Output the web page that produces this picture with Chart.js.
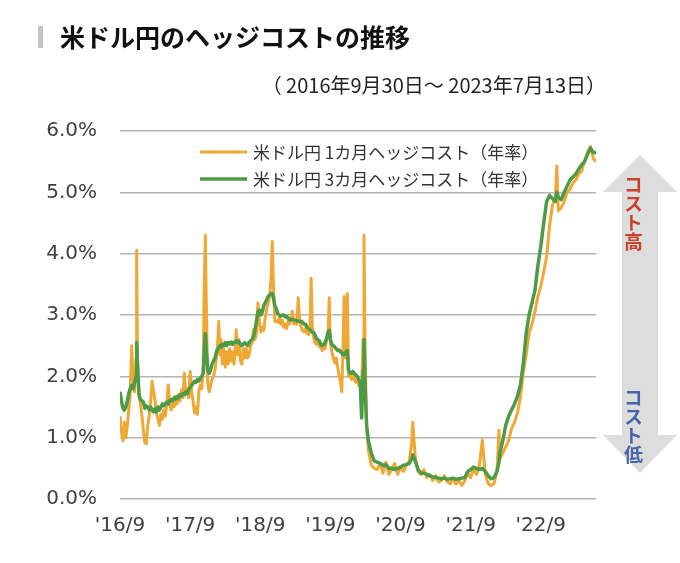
<!DOCTYPE html>
<html><head><meta charset="utf-8">
<script src="https://cdn.jsdelivr.net/npm/chart.js@4.4.0/dist/chart.umd.min.js"></script>
<style>
html,body{margin:0;padding:0;background:#fff;}
#wrap{position:relative;width:680px;height:563px;overflow:hidden;font-family:"Noto Sans CJK JP","Noto Sans",sans-serif;}
#c{position:absolute;left:0;top:0;}
.bar{position:absolute;left:38px;top:26px;width:5px;height:22px;background:#c4c4c4;}
.title{position:absolute;left:60px;top:24px;font-size:25px;font-weight:bold;color:#111;line-height:25px;white-space:nowrap;}
.sub{position:absolute;right:74px;top:75px;font-size:20px;color:#222;line-height:20px;white-space:nowrap;}
svg.arrow{position:absolute;left:0;top:0;pointer-events:none;}
.vt{position:absolute;writing-mode:vertical-rl;font-size:19px;font-weight:bold;line-height:19px;white-space:nowrap;}
.hi{left:624px;top:175px;color:#c8432b;}
.lo{left:624px;top:388px;color:#4565a8;}
</style></head>
<body>
<div id="wrap">
  <canvas id="c" width="680" height="563"></canvas>
  <div class="bar"></div>
  <div class="title">米ドル円のヘッジコストの推移</div>
  <div class="sub">（ 2016年9月30日～ 2023年7月13日）</div>
  <svg class="arrow" width="680" height="563"><polygon points="640,155 677,192 658,192 658,435 677,435 640,473 603,435 622,435 622,192 603,192" fill="#dddddd"/></svg>
  <div class="vt hi">コスト高</div>
  <div class="vt lo">コスト低</div>
</div>
<script>
// months since 2016-09-30
const months = [
0, 0.25, 0.5, 0.75, 1, 1.25, 1.5, 1.75, 2, 2.25,
2.5, 2.75, 2.85, 3, 3.25, 3.5, 3.75, 4, 4.25, 4.5,
4.75, 5, 5.25, 5.5, 5.75, 6, 6.25, 6.5, 6.75, 7,
7.25, 7.5, 7.75, 8, 8.25, 8.5, 8.75, 9, 9.25, 9.5,
9.75, 10, 10.25, 10.5, 10.75, 11, 11.25, 11.5, 11.75, 12,
12.25, 12.5, 12.75, 13, 13.25, 13.5, 13.75, 14, 14.25, 14.4,
14.6, 14.8, 15, 15.25, 15.5, 15.75, 16, 16.25, 16.5, 16.75,
16.9, 17.1, 17.3, 17.5, 17.75, 18, 18.25, 18.5, 18.75, 19,
19.25, 19.5, 19.75, 19.9, 20.1, 20.35, 20.6, 20.85, 21.1, 21.35,
21.6, 21.85, 22.1, 22.35, 22.6, 22.85, 23.1, 23.35, 23.6, 23.85,
24.1, 24.35, 24.6, 24.85, 25.1, 25.35, 25.6, 25.85, 26.05, 26.25,
26.5, 26.75, 27, 27.25, 27.5, 27.75, 28, 28.25, 28.5, 28.75,
29, 29.25, 29.5, 29.75, 30, 30.25, 30.5, 30.75, 31, 31.25,
31.5, 31.75, 32, 32.25, 32.5, 32.7, 32.9, 33.1, 33.35, 33.6,
33.85, 34.1, 34.35, 34.6, 34.85, 35.1, 35.35, 35.6, 35.8, 36,
36.25, 36.5, 36.75, 37, 37.25, 37.5, 37.75, 37.95, 38.15, 38.35,
38.55, 38.75, 38.9, 39.1, 39.35, 39.6, 39.85, 40.1, 40.35, 40.6,
40.85, 41.1, 41.35, 41.6, 41.75, 41.95, 42.2, 42.5, 43, 43.5,
44, 44.5, 45, 45.5, 46, 46.5, 47, 47.5, 48, 48.5,
49, 49.5, 49.9, 50.1, 50.5, 51, 51.5, 52, 52.5, 53,
53.5, 54, 54.5, 55, 55.5, 56, 56.5, 57, 57.5, 58,
58.5, 59, 59.5, 60, 60.5, 61, 61.5, 62, 62.5, 63,
63.5, 64, 64.5, 64.85, 65, 65.5, 66, 66.5, 67, 67.5,
68, 68.5, 69, 69.5, 70, 70.5, 71, 71.5, 72, 72.5,
73, 73.5, 74, 74.5, 74.75, 75, 75.5, 76, 76.5, 77,
77.5, 78, 78.5, 79, 79.5, 80, 80.5, 81, 81.45
];
// 米ドル円 1カ月ヘッジコスト（年率, %）
const hedge1M = [
1.35, 1.1, 0.95, 1.25, 1.0, 1.2, 1.45, 1.7, 2.5, 1.85,
1.75, 2.3, 4.05, 2.2, 1.7, 1.55, 1.35, 1.13, 0.92, 0.9,
1.2, 1.35, 1.6, 1.92, 1.75, 1.6, 1.4, 1.3, 1.2, 1.38,
1.3, 1.45, 1.35, 1.55, 1.86, 1.55, 1.45, 1.6, 1.5, 1.67,
1.55, 1.7, 1.6, 1.78, 1.65, 2.05, 1.7, 1.8, 1.65, 2.08,
1.75, 1.6, 1.4, 1.5, 1.38, 1.75, 1.86, 1.8, 2.2, 3.4,
4.3, 3.0, 1.9, 1.75, 1.85, 1.95, 2.0, 2.1, 2.3, 2.6,
2.9, 2.35, 2.6, 2.2, 2.45, 2.15, 2.4, 2.2, 2.45, 2.25,
2.4, 2.2, 2.5, 2.76, 2.35, 2.6, 2.25, 2.2, 2.45, 2.3,
2.45, 2.3, 2.35, 2.5, 2.55, 2.76, 2.6, 2.7, 3.2, 2.9,
2.72, 2.8, 2.75, 2.95, 3.1, 3.2, 3.3, 3.6, 4.2, 3.5,
2.9, 2.9, 2.88, 2.95, 2.85, 2.92, 2.8, 2.85, 2.78, 2.9,
2.85, 2.95, 3.06, 2.85, 2.9, 2.85, 3.28, 2.9, 2.8, 2.75,
2.72, 2.78, 2.7, 2.68, 2.8, 3.6, 2.8, 2.65, 2.55, 2.52,
2.6, 2.48, 2.5, 2.42, 2.52, 2.45, 2.6, 2.7, 3.28, 2.55,
2.4, 2.3, 2.22, 2.3, 2.15, 2.0, 1.9, 1.75, 2.4, 3.3,
2.3, 2.6, 3.35, 2.0, 2.05, 1.95, 2.02, 1.95, 1.9, 1.95,
1.85, 1.9, 1.85, 2.6, 4.3, 2.4, 1.2, 0.8, 0.55, 0.5,
0.48, 0.58, 0.42, 0.6, 0.4, 0.48, 0.58, 0.4, 0.52, 0.45,
0.55, 0.62, 0.9, 1.25, 0.7, 0.45, 0.4, 0.48, 0.35, 0.4,
0.3, 0.38, 0.28, 0.3, 0.38, 0.28, 0.25, 0.33, 0.24, 0.3,
0.22, 0.3, 0.42, 0.35, 0.5, 0.4, 0.55, 0.96, 0.4, 0.25,
0.22, 0.25, 0.45, 1.12, 0.65, 0.75, 0.85, 0.95, 1.15, 1.25,
1.4, 1.65, 2.05, 2.35, 2.7, 2.85, 3.05, 3.3, 3.47, 3.7,
3.95, 4.45, 4.8, 4.9, 5.43, 4.7, 4.75, 4.85, 5.0, 5.05,
5.15, 5.2, 5.3, 5.35, 5.5, 5.65, 5.75, 5.55, 5.5
];
// 米ドル円 3カ月ヘッジコスト（年率, %）
const hedge3M = [
1.75, 1.6, 1.48, 1.45, 1.5, 1.6, 1.72, 1.8, 1.85, 1.8,
1.9, 2.0, 2.55, 2.2, 1.7, 1.62, 1.6, 1.58, 1.48, 1.52,
1.5, 1.45, 1.5, 1.45, 1.42, 1.47, 1.42, 1.5, 1.45, 1.5,
1.55, 1.52, 1.55, 1.58, 1.55, 1.6, 1.62, 1.6, 1.65, 1.63,
1.67, 1.65, 1.7, 1.68, 1.72, 1.7, 1.75, 1.72, 1.78, 1.82,
1.85, 1.88, 1.92, 1.9, 1.95, 1.92, 1.97, 2.0, 2.05, 2.4,
2.7, 2.4, 2.1, 2.05, 2.1, 2.2, 2.25, 2.3, 2.4, 2.45,
2.47, 2.5, 2.48, 2.52, 2.5, 2.55, 2.5, 2.55, 2.53, 2.56,
2.52, 2.55, 2.57, 2.58, 2.55, 2.57, 2.52, 2.5, 2.53, 2.55,
2.52, 2.5, 2.55, 2.58, 2.6, 2.65, 2.75, 2.9, 3.05, 3.08,
3.0, 3.05, 3.15, 3.2, 3.25, 3.3, 3.33, 3.35, 3.35, 3.28,
3.15, 3.1, 3.02, 3.0, 2.98, 3.0, 3.0, 2.97, 2.98, 2.95,
2.93, 2.92, 2.93, 2.92, 2.92, 2.9, 2.9, 2.9, 2.9, 2.88,
2.85, 2.85, 2.8, 2.78, 2.76, 2.74, 2.72, 2.72, 2.68, 2.62,
2.6, 2.58, 2.52, 2.5, 2.52, 2.55, 2.62, 2.72, 2.75, 2.6,
2.52, 2.5, 2.48, 2.45, 2.42, 2.43, 2.4, 2.38, 2.35, 2.35,
2.38, 2.4, 2.42, 2.1, 2.06, 2.05, 2.08, 2.05, 2.02, 2.0,
1.95, 1.9, 1.32, 2.1, 2.6, 1.8, 1.2, 0.95, 0.75, 0.62,
0.6, 0.58, 0.55, 0.56, 0.5, 0.5, 0.48, 0.5, 0.52, 0.55,
0.56, 0.58, 0.65, 0.72, 0.62, 0.48, 0.42, 0.42, 0.4, 0.38,
0.36, 0.35, 0.34, 0.33, 0.34, 0.32, 0.33, 0.34, 0.32, 0.33,
0.34, 0.35, 0.45, 0.48, 0.52, 0.5, 0.48, 0.5, 0.45, 0.38,
0.33, 0.35, 0.45, 0.6, 0.75, 0.95, 1.2, 1.35, 1.45, 1.55,
1.67, 1.85, 2.2, 2.7, 3.0, 3.2, 3.4, 3.8, 4.12, 4.5,
4.85, 4.95, 4.9, 4.85, 5.0, 4.92, 4.88, 5.0, 5.1, 5.2,
5.25, 5.3, 5.38, 5.45, 5.5, 5.62, 5.72, 5.65, 5.65
];
const seriesNames = ["米ドル円 1カ月ヘッジコスト（年率）", "米ドル円 3カ月ヘッジコスト（年率）"];
const tickMonths = [0, 12, 24, 36, 48, 60, 72];
const tickLabels = ["'16/9", "'17/9", "'18/9", "'19/9", "'20/9", "'21/9", "'22/9"];
const endMonth = 81.45;

const ORANGE = '#F0A834';
const GREEN = '#4E9A46';

const legendPlugin = {
  id: 'customLegend',
  afterDraw(chart) {
    const {ctx, chartArea} = chart;
    ctx.save();
    ctx.font = '17px "Noto Sans CJK JP"';
    ctx.textBaseline = 'middle';
    ctx.fillStyle = '#333';
    const x0 = chartArea.left + 80, y0 = chartArea.top + 21, dy = 27;
    chart.data.datasets.forEach((ds, i) => {
      const y = y0 + i * dy;
      ctx.strokeStyle = ds.borderColor;
      ctx.lineWidth = ds.borderWidth;
      ctx.beginPath(); ctx.moveTo(x0, y); ctx.lineTo(x0 + 47, y); ctx.stroke();
      ctx.fillText(ds.label, x0 + 53, y + 1);
    });
    ctx.restore();
  }
};

const tickFont = {family: '"DejaVu Sans", Verdana, sans-serif', size: 20};

new Chart(document.getElementById('c'), {
  type: 'line',
  data: {
    datasets: [
      {label: seriesNames[0], data: months.map((m, i) => ({x: m, y: hedge1M[i]})), borderColor: ORANGE, borderWidth: 3, pointRadius: 0, tension: 0, order: 1, borderJoinStyle: 'round'},
      {label: seriesNames[1], data: months.map((m, i) => ({x: m, y: hedge3M[i]})), borderColor: GREEN, borderWidth: 3.5, pointRadius: 0, tension: 0, order: 0, borderJoinStyle: 'round'}
    ]
  },
  options: {
    responsive: false,
    animation: false,
    layout: {padding: {top: 131, right: 84, bottom: 0, left: 0}},
    plugins: {legend: {display: false}, tooltip: {enabled: false}},
    scales: {
      x: {
        type: 'linear', min: 0, max: endMonth,
        grid: {display: false, drawTicks: false},
        border: {display: false},
        afterBuildTicks: s => { s.ticks = tickMonths.map(v => ({value: v})); },
        ticks: {callback: (v, i) => tickLabels[i], font: tickFont, color: '#404040', padding: 15, maxRotation: 0, autoSkip: false},
        afterFit: s => { s.height = 64; }
      },
      y: {
        min: 0, max: 6,
        ticks: {stepSize: 1, callback: v => v.toFixed(1) + '%', font: tickFont, color: '#404040', padding: 23},
        grid: {color: '#b4b4b4', lineWidth: 1.5, drawTicks: false},
        border: {display: false},
        afterFit: s => { s.width = 120; }
      }
    }
  },
  plugins: [legendPlugin]
});
</script>
</body></html>
